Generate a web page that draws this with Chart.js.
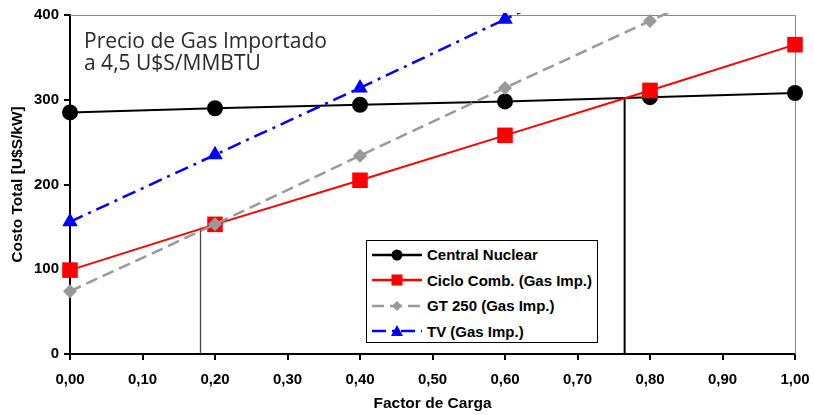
<!DOCTYPE html>
<html>
<head>
<meta charset="utf-8">
<script src="https://cdn.jsdelivr.net/npm/chart.js@4.4.1/dist/chart.umd.min.js"></script>
<style>
  html, body { margin: 0; padding: 0; background: #fff; }
  #wrap { position: relative; width: 814px; height: 415px; }
  #note {
    position: absolute; left: 84px; top: 29px;
    font-family: "Open Sans", sans-serif; font-size: 21px; line-height: 22px;
    color: #2a2a2a;
  }
  #legend {
    position: absolute; left: 366px; top: 240px; width: 232px; height: 103px;
    border: 1px solid #000; background: #fff; box-sizing: border-box;
    font-family: "Liberation Sans", Arial, sans-serif; font-weight: bold; font-size: 15px;
    padding-top: 1px; white-space: nowrap;
  }
  #legend .row { display: flex; align-items: center; height: 25.5px; }
  #legend svg { margin-left: 5px; margin-right: 5px; flex: none; }
</style>
</head>
<body>
<div id="wrap">
  <canvas id="chart" width="814" height="415"></canvas>
  <div id="note">Precio de Gas Importado<br>a 4,5 U$S/MMBTU</div>
  <div id="legend"></div>
</div>
<script>
// factor de carga
const factor = [0, 0.2, 0.4, 0.6, 0.8, 1.0];

// costo total [U$S/kW]
const nuclear = [285, 290, 294, 298, 303, 308];
const cicloComb = [99, 153, 205, 258, 311, 365];
const gt250 = [74, 153, 234, 314, 393, 472];
const tv = [156, 235, 314, 395, 474, 554];

// vertical reference lines (crossing points)
const crossA = [[0.18, 0], [0.18, 149]];
const crossB = [[0.765, 0], [0.765, 302]];

const yTicks = [0, 100, 200, 300, 400];

const toXY = (ys) => factor.map((x, i) => ({ x: x, y: ys[i] }));
const toPts = (arr) => arr.map(p => ({ x: p[0], y: p[1] }));
const edgeClip = { left: 14, right: 14, top: 2, bottom: 14 };

const series = [
  { label: 'Central Nuclear', data: toXY(nuclear), borderColor: '#000', backgroundColor: '#000',
    borderWidth: 2, pointStyle: 'circle', pointRadius: 8, order: 3 },
  { label: 'Ciclo Comb. (Gas Imp.)', data: toXY(cicloComb), borderColor: '#ff0000', backgroundColor: '#ff0000',
    borderWidth: 2, pointStyle: 'rect', pointRadius: 11, order: 2 },
  { label: 'GT 250 (Gas Imp.)', data: toXY(gt250), borderColor: '#999', backgroundColor: '#999',
    borderWidth: 2.5, borderDash: [12, 6], pointStyle: 'rectRot', pointRadius: 7, order: 1 },
  { label: 'TV (Gas Imp.)', data: toXY(tv), borderColor: '#0000ff', backgroundColor: '#0000ff',
    borderWidth: 2.5, borderDash: [14, 6, 3, 6], pointStyle: 'triangle', pointRadius: 9, order: 0 }
];

const guides = [
  { label: '', data: toPts(crossA), borderColor: '#444', borderWidth: 1.3, pointRadius: 0, order: 5 },
  { label: '', data: toPts(crossB), borderColor: '#000', borderWidth: 2, pointRadius: 0, order: 5 }
];

const datasets = series.map(s => Object.assign({ clip: edgeClip, tension: 0, pointBorderWidth: 0 }, s))
  .concat(guides);

// thin grey frame on top / right of plot area
const framePlugin = {
  id: 'frame',
  beforeDatasetsDraw(chart) {
    const a = chart.chartArea, c = chart.ctx;
    c.save();
    c.strokeStyle = '#888';
    c.lineWidth = 1;
    c.beginPath();
    c.moveTo(a.left, a.top + 0.5);
    c.lineTo(a.right + 0.5, a.top + 0.5);
    c.lineTo(a.right + 0.5, a.bottom);
    c.stroke();
    c.restore();
  }
};

const tickFont = { family: 'Liberation Sans', size: 15, weight: 'bold' };
const titleFont = { family: 'Liberation Sans', size: 15.5, weight: 'bold' };

const chart = new Chart(document.getElementById('chart').getContext('2d'), {
  type: 'line',
  data: { datasets: datasets },
  options: {
    responsive: false,
    animation: false,
    layout: { padding: { top: 15, right: 19, left: 0, bottom: 0 } },
    plugins: { legend: { display: false }, tooltip: { enabled: false } },
    scales: {
      x: {
        type: 'linear', min: 0, max: 1,
        afterFit: s => { s.height = 61; s.paddingLeft = 0; s.paddingRight = 0; },
        ticks: { stepSize: 0.1, color: '#000', font: tickFont, padding: 11,
          callback: v => v.toFixed(2).replace('.', ',') },
        grid: { drawOnChartArea: false, color: '#000', lineWidth: 2, tickLength: 6 },
        border: { color: '#000', width: 2 },
        title: { display: true, text: 'Factor de Carga', color: '#000', font: titleFont, padding: { top: 4, bottom: 2 } }
      },
      y: {
        min: 0, max: 400,
        afterFit: s => { s.width = 70; s.paddingTop = 0; s.paddingBottom = 0; },
        afterBuildTicks: s => { s.ticks = yTicks.map(v => ({ value: v })); },
        ticks: { color: '#000', font: tickFont, padding: 5 },
        grid: { drawOnChartArea: false, color: '#000', lineWidth: 2, tickLength: 6 },
        border: { color: '#000', width: 2 },
        title: { display: true, text: 'Costo Total [U$S/kW]', color: '#000', font: titleFont, padding: { top: 8, bottom: 4 } }
      }
    }
  },
  plugins: [framePlugin]
});

// legend box built from the datasets
function sample(ds) {
  const dash = ds.borderDash ? ds.borderDash.join(',') : 'none';
  let mark = '';
  const cx = 25, cy = 8;
  if (ds.pointStyle === 'circle') mark = `<circle cx="${cx}" cy="${cy}" r="5.5" fill="${ds.backgroundColor}"/>`;
  if (ds.pointStyle === 'rect') mark = `<rect x="${cx - 5.5}" y="${cy - 5.5}" width="11" height="11" fill="${ds.backgroundColor}"/>`;
  if (ds.pointStyle === 'rectRot') mark = `<polygon points="${cx},${cy - 5} ${cx + 5},${cy} ${cx},${cy + 5} ${cx - 5},${cy}" fill="${ds.backgroundColor}"/>`;
  if (ds.pointStyle === 'triangle') mark = `<polygon points="${cx},${cy - 6} ${cx + 6},${cy + 5} ${cx - 6},${cy + 5}" fill="${ds.backgroundColor}"/>`;
  return `<svg width="50" height="16"><line x1="0" y1="${cy}" x2="50" y2="${cy}" stroke="${ds.borderColor}" stroke-width="2.5" stroke-dasharray="${dash}"/>${mark}</svg>`;
}
document.getElementById('legend').innerHTML = series.map(ds =>
  `<div class="row">${sample(ds)}<span>${ds.label}</span></div>`).join('');
</script>
</body>
</html>
